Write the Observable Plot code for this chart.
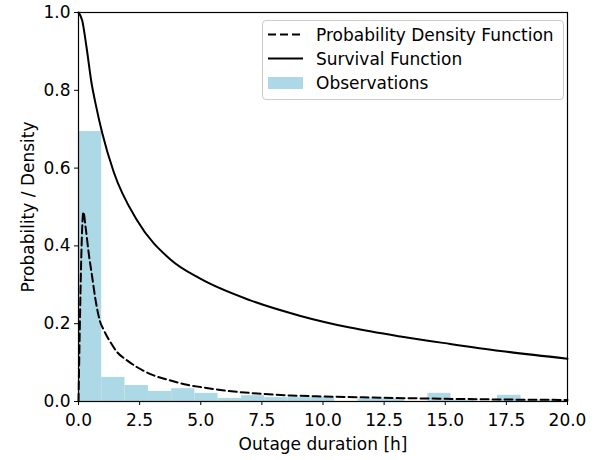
<!DOCTYPE html>
<html>
<head>
<meta charset="utf-8">
<script src="https://cdn.jsdelivr.net/npm/d3@7"></script>
<script src="https://cdn.jsdelivr.net/npm/@observablehq/plot@0.6"></script>
<style>
  body { margin: 0; background: white; }
  #wrap { position: relative; width: 606px; height: 460px; font-family: "DejaVu Sans", sans-serif; }
  #legend { position: absolute; left: 262px; top: 20px; width: 300px; height: 78px;
            border: 1px solid #cccccc; border-radius: 4px; background: rgba(255,255,255,0.85); }
</style>
</head>
<body>
<div id="wrap"></div>
<script>
// Histogram of observations (bin edges and density heights)
const binEdges = [0, 0.95, 1.9, 2.86, 3.81, 4.76, 5.71, 6.67, 7.62, 8.57, 9.52, 10.48, 11.43, 12.38, 13.33, 14.29, 15.24, 16.19, 17.14, 18.1, 19.05, 20.0];
const binDensity = [0.694, 0.062, 0.041, 0.026, 0.033, 0.021, 0.008, 0.015, 0.010, 0.010, 0.010, 0.000, 0.007, 0.007, 0.000, 0.021, 0.003, 0.000, 0.016, 0.002, 0.004];

// Probability density function
const pdfX = [0, 0.2, 0.29, 0.42, 0.56, 0.7, 0.87, 1.04, 1.31, 1.58, 2.0, 2.4, 3.08, 3.76, 4.44, 5.0, 5.88, 7.0, 8.67, 10.0, 12.5, 15.0, 17.5, 20.0];
const pdfY = [0, 0.487, 0.448, 0.38, 0.32, 0.26, 0.208, 0.183, 0.152, 0.127, 0.105, 0.088, 0.067, 0.054, 0.043, 0.037, 0.029, 0.022, 0.0155, 0.013, 0.0095, 0.007, 0.005, 0.004];

// Survival function
const survX = [0, 0.15, 0.33, 0.53, 0.7, 0.97, 1.44, 2.4, 3.76, 5.0, 7.03, 9.08, 11.1, 13.17, 15.2, 17.26, 20.0];
const survY = [1.0, 0.98, 0.91, 0.82, 0.765, 0.69, 0.59, 0.465, 0.365, 0.315, 0.26, 0.22, 0.19, 0.167, 0.148, 0.13, 0.11];

const xTicks = [0, 2.5, 5, 7.5, 10, 12.5, 15, 17.5, 20];
const yTicks = [0, 0.2, 0.4, 0.6, 0.8, 1.0];

const bins = binDensity.map((d, i) => ({x1: binEdges[i], x2: binEdges[i + 1], y: d}));
const pdf = pdfX.map((x, i) => ({x, y: pdfY[i]}));
const surv = survX.map((x, i) => ({x, y: survY[i]}));

const chart = Plot.plot({
  width: 606,
  height: 460,
  marginLeft: 78,
  marginRight: 39,
  marginTop: 12,
  marginBottom: 59,
  style: {fontFamily: "DejaVu Sans, sans-serif", fontSize: "17px", color: "black", background: "white"},
  x: {domain: [0, 20]},
  y: {domain: [0, 1]},
  marks: [
    Plot.rectY(bins, {x1: "x1", x2: "x2", y: "y", fill: "#add8e6", inset: 0}),
    Plot.line(surv, {x: "x", y: "y", stroke: "black", strokeWidth: 2, curve: "monotone-x"}),
    Plot.line(pdf, {x: "x", y: "y", stroke: "black", strokeWidth: 2, strokeDasharray: "8,4", curve: "monotone-x"}),
    Plot.frame({stroke: "black", strokeWidth: 1.2}),
    Plot.axisX({ticks: xTicks, tickFormat: d3.format(".1f"), tickSize: 4, tickPadding: 8, fontSize: 17,
      label: "Outage duration [h]", labelAnchor: "center", labelOffset: 48, labelArrow: "none"}),
    Plot.axisY({ticks: yTicks, tickFormat: d3.format(".1f"), tickSize: 4, tickPadding: 4, fontSize: 17,
      label: "Probability / Density", labelAnchor: "center", labelOffset: 57, labelArrow: "none"})
  ]
});
document.getElementById("wrap").appendChild(chart);

// Legend
const legend = document.createElement("div");
legend.id = "legend";
legend.innerHTML = `
<svg width="300" height="78" style="font-family: DejaVu Sans, sans-serif; font-size:17px;">
  <line x1="5" x2="40" y1="13.5" y2="13.5" stroke="black" stroke-width="2" stroke-dasharray="8,4"/>
  <text x="53" y="13.5" dominant-baseline="central">Probability Density Function</text>
  <line x1="5" x2="40" y1="37.5" y2="37.5" stroke="black" stroke-width="2"/>
  <text x="53" y="37.5" dominant-baseline="central">Survival Function</text>
  <rect x="5" y="56" width="35" height="12" fill="#add8e6"/>
  <text x="53" y="61.5" dominant-baseline="central">Observations</text>
</svg>`;
document.getElementById("wrap").appendChild(legend);
</script>
</body>
</html>
